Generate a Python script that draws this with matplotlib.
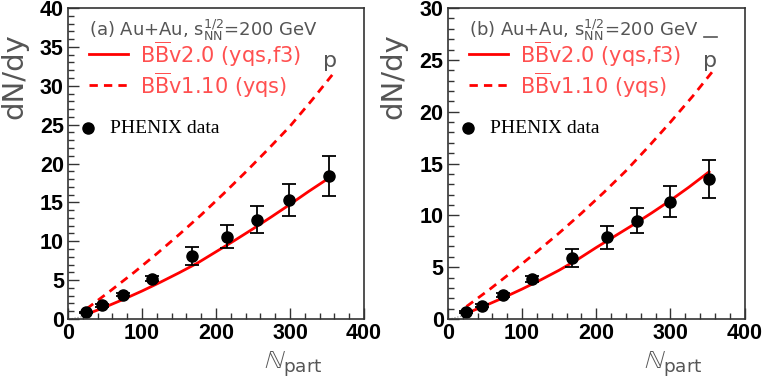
import matplotlib
matplotlib.use("Agg")
from matplotlib import pyplot as plt
from matplotlib.ticker import MultipleLocator

# PHENIX data
npart = [25, 46, 74, 114, 167, 215, 255, 299, 352]
p_y = [0.86, 1.75, 3.15, 5.2, 8.1, 10.6, 12.8, 15.3, 18.4]
p_err = [0.1, 0.15, 0.25, 0.35, 1.15, 1.5, 1.8, 2.1, 2.6]
pbar_y = [0.64, 1.3, 2.35, 3.86, 5.85, 7.9, 9.5, 11.3, 13.5]
pbar_err = [0.1, 0.1, 0.2, 0.3, 0.87, 1.1, 1.25, 1.5, 1.8]

# model curves
p_v20_x = [25, 50, 75, 100, 125, 150, 175, 200, 225, 250, 275, 300, 325, 352]
p_v20_y = [0.6, 1.53, 2.53, 3.6, 4.74, 5.94, 7.2, 8.65, 10.1, 11.6, 13.15,
           14.75, 16.4, 18.1]
p_v110_x = [25, 57, 90, 120, 150, 180, 210, 240, 270, 300, 330, 357]
p_v110_y = [1.3, 3.6, 6.05, 8.4, 10.85, 13.4, 16.1, 18.9, 21.8, 24.8, 28.2, 31.4]

pbar_v20_x = [25, 50, 75, 100, 125, 150, 175, 200, 225, 250, 275, 300, 325, 352]
pbar_v20_y = [0.55, 1.28, 2.06, 2.89, 3.77, 4.71, 5.75, 6.9, 8.0, 9.1, 10.25,
              11.45, 12.73, 14.2]
pbar_v110_x = [25, 57, 90, 120, 150, 180, 210, 240, 270, 300, 330, 358]
pbar_v110_y = [1.2, 2.9, 4.75, 6.5, 8.3, 10.2, 12.2, 14.3, 16.6, 19.0, 21.5, 24.0]

panels = [
    dict(pos=[0.0891, 0.1649, 0.388, 0.814], ymax=40, y=p_y, err=p_err,
         cx=p_v20_x, cy=p_v20_y, dx=p_v110_x, dy=p_v110_y,
         tag="(a)", bar=False),
    dict(pos=[0.587, 0.1649, 0.389, 0.814], ymax=30, y=pbar_y, err=pbar_err,
         cx=pbar_v20_x, cy=pbar_v20_y, dx=pbar_v110_x, dy=pbar_v110_y,
         tag="(b)", bar=True),
]

fig = plt.figure(figsize=(7.63, 3.82), dpi=100)
grey = "#555555"
lred = "#ff5050"
dash = (0, (3, 2.2))

for pn in panels:
    ax = fig.add_axes(pn["pos"])
    ax.set_xlim(0, 400)
    ax.set_ylim(0, pn["ymax"])
    ax.plot([5, 25], [0.05, 0.4], ls=":", color="#888888", lw=0.8)
    ax.plot(pn["dx"], pn["dy"], color="red", ls=dash, lw=2)
    ax.plot(pn["cx"], pn["cy"], color="red", lw=2)
    ax.errorbar(npart, pn["y"], yerr=pn["err"], fmt="o", color="black",
                ms=8, capsize=5, elinewidth=1.3, capthick=1.3)

    ax.xaxis.set_major_locator(MultipleLocator(100))
    ax.xaxis.set_minor_locator(MultipleLocator(20))
    ax.yaxis.set_major_locator(MultipleLocator(5))
    ax.yaxis.set_minor_locator(MultipleLocator(1))
    ax.tick_params(which="both", direction="in", top=False, right=False,
                   color="#333333", width=1)
    ax.tick_params(which="major", length=8, labelsize=15.5, pad=3)
    ax.tick_params(which="minor", length=4)
    for lab in ax.get_xticklabels() + ax.get_yticklabels():
        lab.set_fontweight("bold")
        lab.set_family("Liberation Sans")
    for s in ax.spines.values():
        s.set_color("#333333")
        s.set_linewidth(1.2)

    ax.text(0.07, 0.972, pn["tag"] + r" Au+Au, s$_{\rm NN}^{1/2}$=200 GeV",
            transform=ax.transAxes, color=grey, fontsize=13, va="top")
    # legend drawn by hand, as in the original
    ax.plot([0.071, 0.203], [0.852, 0.852], transform=ax.transAxes, color="red", lw=2)
    ax.text(0.243, 0.85, r"B$\overline{\rm B}$v2.0 (yqs,f3)", transform=ax.transAxes,
            color=lred, fontsize=15, va="center")
    ax.plot([0.071, 0.203], [0.752, 0.752], transform=ax.transAxes, color="red", lw=2,
            ls=dash)
    ax.text(0.243, 0.75, r"B$\overline{\rm B}$v1.10 (yqs)", transform=ax.transAxes,
            color=lred, fontsize=15, va="center")
    ax.plot([0.068], [0.614], "o", transform=ax.transAxes, color="black", ms=8)
    ax.text(0.142, 0.614, "PHENIX data", transform=ax.transAxes, color="black",
            fontsize=14, va="center", family="Liberation Serif")
    ax.text(0.885, 0.83, "p", transform=ax.transAxes, color=grey,
            fontsize=16, ha="center", va="center")
    if pn["bar"]:
        ax.plot([0.862, 0.908], [0.908, 0.908],
                transform=ax.transAxes, color=grey, lw=1.2)

    ax.set_ylabel("dN/dy", color=grey, fontsize=21, loc="top")
    ax.yaxis.set_label_coords(-0.135, 0.92)
    ax.set_xlabel(r"$\mathbb{N}_{\rm part}$", color=grey, fontsize=19, loc="right")
    ax.xaxis.set_label_coords(0.86, -0.1)

fig.savefig("out.png", dpi=100)
